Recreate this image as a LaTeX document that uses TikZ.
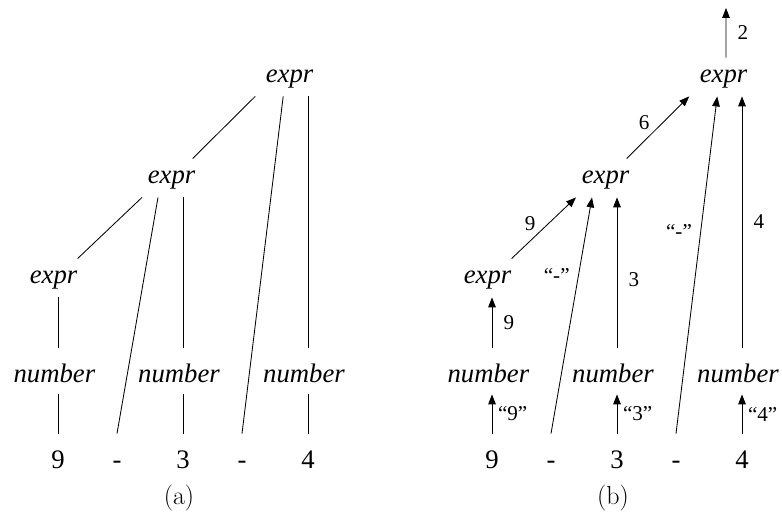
\documentclass[tikz,border=0pt]{standalone}
\usepackage{fontspec}
\usepackage{tikz}
\usetikzlibrary{arrows.meta, positioning}
\setmainfont{Liberation Serif}
\newcommand\lmfont{\fontfamily{lmr}\selectfont}

\begin{document}
\begin{tikzpicture}[>={Triangle[length=0.25cm, width=0.19cm]}, line width=0.6pt,
  sym/.style={font=\fontsize{19}{23}\selectfont, inner sep=0pt, anchor=base},
  exprnode/.style={sym, font=\fontsize{19}{23}\selectfont\itshape, text height=0.625cm, text depth=0.325cm},
  numnode/.style={sym, font=\fontsize{19}{23}\selectfont\itshape, text height=0.875cm, text depth=0.275cm},
  tok/.style={sym, text height=0.85cm, text depth=0pt},
  lbl/.style={font=\fontsize{15}{18}\selectfont, inner sep=0pt},
  subcap/.style={font=\lmfont\fontsize{18.5}{22}\selectfont}]
  \useasboundingbox (0,0) rectangle (19.55,12.875);

  % beide Bäume: Knoten
  \foreach \t/\dx in {a/0, b/10.85} {
    \begin{scope}[xshift=\dx cm]
      \foreach \i/\x/\s in {1/1.45/9, 2/2.925/-, 3/4.575/3, 4/6.05/-, 5/7.7/4}
        \node[tok] (\t-l\i) at (\x,1.175) {\s};
      \foreach \i/\x in {1/1.36, 2/4.475, 3/7.6}
        \node[numnode] (\t-n\i) at (\x,3.3) {number};
      \node[exprnode] (\t-bot) at (1.34,5.775) {expr};
      \node[exprnode] (\t-mid) at (4.29,8.275) {expr};
      \node[exprnode] (\t-top) at (7.24,10.8) {expr};
    \end{scope}
  }
  \node[subcap] (a-cap) at (4.475,0.425) {(a)};
  \node[subcap] (b-cap) at (15.325,0.425) {(b)};

  % (a) Syntaxbaum
  \draw (a-top.south -| a-l5) -- (a-n3.north -| a-l5);
  \draw ([xshift=-0.16cm]a-top.south) -- (a-l4.north);
  \draw ([xshift=-0.86cm]a-top.south) -- ([xshift=0.525cm]a-mid.north);
  \draw (a-mid.south -| a-l3) -- (a-n2.north -| a-l3);
  \draw ([xshift=-0.34cm]a-mid.south) -- (a-l2.north);
  \draw ([xshift=-0.74cm]a-mid.south) -- ([xshift=0.6cm]a-bot.north);
  \draw (a-bot.south -| a-l1) -- (a-n1.north -| a-l1);
  \foreach \i/\j in {1/1, 2/3, 3/5}
    \draw (a-n\i.south -| a-l\j) -- (a-l\j.north);

  % (b) Werte nach oben
  \coordinate (b-out) at (18.15,12.675);
  \draw[->] ([xshift=0.06cm]b-top.north) -- (b-out) node[lbl, midway, right=8pt] {2};
  \draw[->] ([xshift=0.525cm]b-mid.north) -- ([xshift=-0.86cm]b-top.south)
    node[lbl, midway, left=0.2cm, yshift=0.12cm] {6};
  \draw[->] (b-l4.north) -- ([xshift=-0.16cm]b-top.south) node[lbl, pos=0.6, left=6pt] {“-”};
  \draw[->] (b-n3.north -| b-l5) -- (b-top.south -| b-l5) node[lbl, midway, right=8pt] {4};
  \draw[->] ([xshift=0.6cm]b-bot.north) -- ([xshift=-0.74cm]b-mid.south)
    node[lbl, midway, left=0.2cm, yshift=0.12cm] {9};
  \draw[->] (b-l2.north) -- ([xshift=-0.34cm]b-mid.south) node[lbl, pos=0.67, left=6pt] {“-”};
  \draw[->] (b-n2.north -| b-l3) -- (b-mid.south -| b-l3) node[lbl, pos=0.45, right=8pt] {3};
  \draw[->] (b-n1.north -| b-l1) -- (b-bot.south -| b-l1) node[lbl, midway, right=8pt] {9};
  \foreach \i/\j/\s in {1/1/9, 2/3/3, 3/5/4}
    \draw[->] (b-l\j.north) -- (b-n\i.south -| b-l\j) node[lbl, midway, right=4pt] {“\s”};
\end{tikzpicture}
\end{document}
